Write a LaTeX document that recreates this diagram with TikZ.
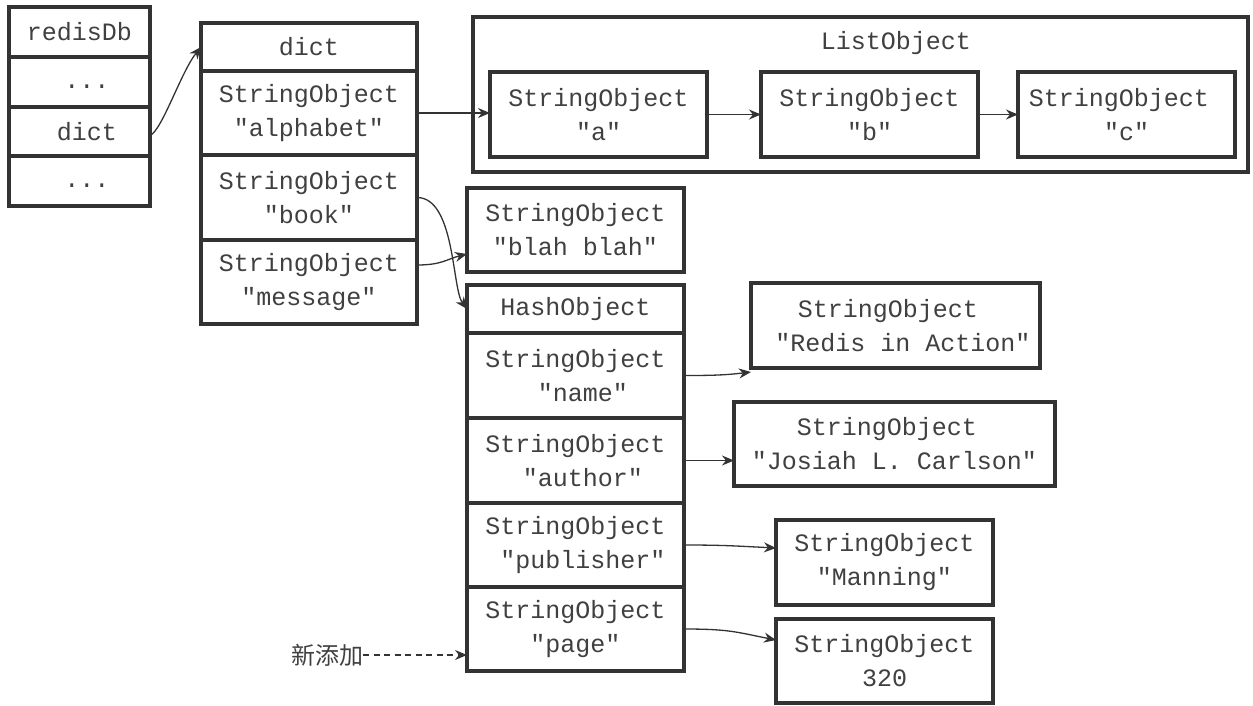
\documentclass[tikz,border=0pt]{standalone}
\usepackage{fontspec}
\newfontfamily\monof{Liberation Mono}
\newfontfamily\cjkf{Noto Sans CJK SC}
\usetikzlibrary{arrows.meta}
\definecolor{boxc}{HTML}{333333}
\definecolor{txtc}{HTML}{404040}
\newcommand\padx{\phantom{x}}
\begin{document}
\begin{tikzpicture}[x=1pt,y=-1pt,
  cell/.style={draw=boxc, line width=3.2pt, inner sep=0pt, outer sep=0pt,
    align=center, text=txtc, font=\monof\fontsize{25}{34}\selectfont},
  lbl/.style={inner sep=0pt, outer sep=0pt, text=txtc, font=\monof\fontsize{25}{34}\selectfont},
  arr/.style={draw=boxc, line width=1.3pt, -{Stealth[length=12pt,width=10pt]}},
  darr/.style={arr, dash pattern=on 6pt off 4.5pt}]
\useasboundingbox (0,0) rectangle (1253,705);

% redisDb column
\node[cell, minimum width=141pt, minimum height=50pt] (r0) at (79.5,32) {redisDb};
\node[cell, minimum width=141pt, minimum height=50pt] (r1) at (79.5,82) {\padx...};
\node[cell, minimum width=141pt, minimum height=49pt] (r2) at (79.5,131.5) {\padx dict};
\node[cell, minimum width=141pt, minimum height=50pt] (r3) at (79.5,181) {\padx...};

% dict column
\node[cell, minimum width=216pt, minimum height=48pt] (d0) at (309,47) {dict};
\node[cell, minimum width=216pt, minimum height=84pt] (d1) at (309,113) {StringObject\\"alphabet"};
\node[cell, minimum width=216pt, minimum height=85pt] (d2) at (309,197.5) {StringObject\\"book"};
\node[cell, minimum width=216pt, minimum height=84pt] (d3) at (309,282) {StringObject\\"message"};

% ListObject
\node[cell, minimum width=775pt, minimum height=155pt] (list) at (860.5,94.5) {};
\node[lbl] (lt) at (896,43) {ListObject};
\node[cell, minimum width=217pt, minimum height=85pt] (la) at (598.5,114.5) {StringObject\\"a"};
\node[cell, minimum width=217pt, minimum height=85pt] (lb) at (869.5,114.5) {StringObject\\"b"};
\node[cell, minimum width=217pt, minimum height=85pt] (lc) at (1126.5,114.5) {StringObject\padx\\"c"};

% blah blah
\node[cell, minimum width=217pt, minimum height=84pt] (blah) at (575.5,230) {StringObject\\"blah blah"};

% HashObject column
\node[cell, minimum width=217pt, minimum height=48pt] (h0) at (575.5,309) {HashObject};
\node[cell, minimum width=217pt, minimum height=85pt] (h1) at (575.5,375.5) {StringObject\\\padx"name"};
\node[cell, minimum width=217pt, minimum height=85pt] (h2) at (575.5,460.5) {StringObject\\\padx"author"};
\node[cell, minimum width=217pt, minimum height=84pt] (h3) at (575.5,545) {StringObject\\\padx"publisher"};
\node[cell, minimum width=217pt, minimum height=84pt] (h4) at (575.5,629) {StringObject\\"page"};

% values
\node[cell, minimum width=289pt, minimum height=85pt] (redis) at (895.5,325.5) {StringObject\padx\\\padx"Redis in Action"};
\node[cell, minimum width=321pt, minimum height=84pt] (josiah) at (894.5,444) {StringObject\padx\\"Josiah L. Carlson"};
\node[cell, minimum width=217pt, minimum height=85pt] (manning) at (884.5,562.5) {StringObject\\"Manning"};
\node[cell, minimum width=217pt, minimum height=84pt] (n320) at (884.5,661) {StringObject\\320};

% new label
\node[inner sep=0pt, outer sep=0pt, anchor=east, text=txtc, font=\cjkf\fontsize{24}{28}\selectfont] (new) at (363,655) {新添加};

% connectors
\draw[arr] ([yshift=-4pt]r2.east) .. controls +(12,-5) and +(-20,25) .. (d0.west);
\draw[arr] (d1.east) -- (d1.east -| la.west);
\draw[arr] (la) -- (lb);
\draw[arr] (lb) -- (lc);
\draw[arr] (d2.east) .. controls +(38,0) and +(-15,-20) .. (h0.west);
\draw[arr] ([yshift=17pt]d3.east) .. controls +(25,0) and +(-20,5) .. ([yshift=-24pt]blah.west);
\draw[arr] (h1.east) .. controls +(30,0) and +(-25,3) .. ([yshift=-4pt]redis.south west);
\draw[arr] (h2.east) -- (h2.east -| josiah.west);
\draw[arr] (h3.east) .. controls +(40,0) and +(-40,-2) .. ([yshift=14.5pt]manning.west);
\draw[arr] (h4.east) .. controls +(45,0) and +(-40,-8) .. ([yshift=21pt]n320.west);
\draw[darr] (new.east) -- (new.east -| h4.west);
\end{tikzpicture}
\end{document}
